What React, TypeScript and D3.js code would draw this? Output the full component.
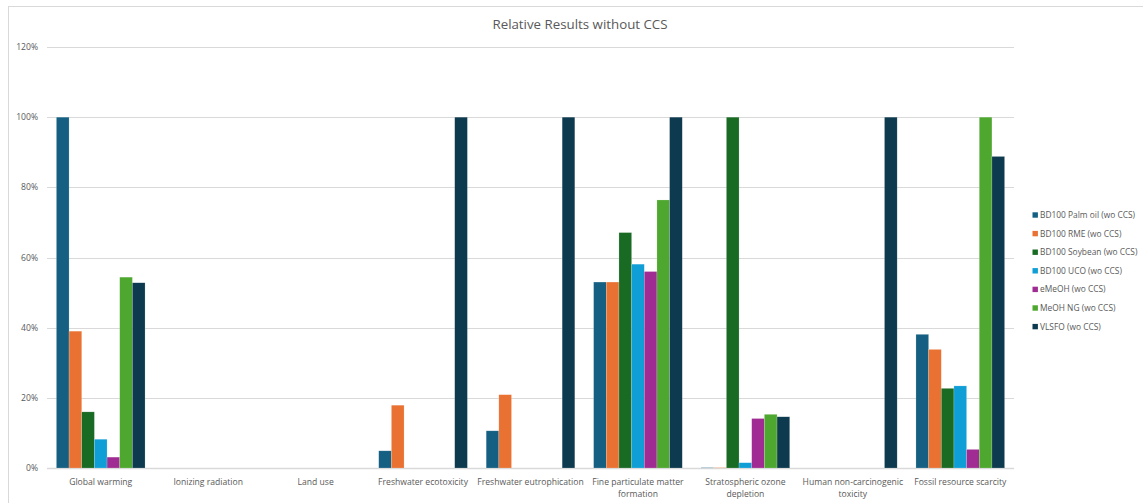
import React, { useMemo } from "react";
import * as d3 from "d3";

const WIDTH = 1143;
const HEIGHT = 503;

const title = "Relative Results without CCS";

const categories = [
  "Global warming",
  "Ionizing radiation",
  "Land use",
  "Freshwater ecotoxicity",
  "Freshwater eutrophication",
  "Fine particulate matter formation",
  "Stratospheric ozone depletion",
  "Human non-carcinogenic toxicity",
  "Fossil resource scarcity",
];

const seriesNames = [
  "BD100 Palm oil (wo CCS)",
  "BD100 RME (wo CCS)",
  "BD100 Soybean (wo CCS)",
  "BD100 UCO (wo CCS)",
  "eMeOH (wo CCS)",
  "MeOH NG (wo CCS)",
  "VLSFO (wo CCS)",
];

const seriesColors = [
  "#156082",
  "#E97132",
  "#196B24",
  "#0F9ED5",
  "#A02B93",
  "#4EA72E",
  "#0D3A4E",
];

// Relative results in percent, one array per series, ordered like `categories`
const palmOil = [100, 0, 0, 4.9, 10.6, 53.0, 0.1, 0, 38.1];
const rme = [39.0, 0, 0, 17.9, 20.9, 53.0, 0.1, 0, 33.8];
const soybean = [16.0, 0, 0, 0, 0, 67.1, 100, 0, 22.7];
const uco = [8.2, 0, 0, 0, 0, 58.1, 1.5, 0, 23.4];
const emeoh = [3.1, 0, 0, 0, 0, 56.0, 14.1, 0, 5.3];
const meohNg = [54.4, 0, 0, 0, 0, 76.4, 15.3, 0, 100];
const vlsfo = [52.8, 0, 0, 100, 100, 100, 14.6, 100, 88.8];

const seriesValues = [palmOil, rme, soybean, uco, emeoh, meohNg, vlsfo];

const yTicks = [0, 20, 40, 60, 80, 100, 120];

const FONT = "'Open Sans', 'Liberation Sans', sans-serif";
const TEXT_COLOR = "#595959";
const GRID_COLOR = "#D9D9D9";

const plot = { left: 47, right: 1014, top: 47, bottom: 468 };

function wrapLabel(text: string, maxWidth: number, font: string): string[] {
  const canvas = document.createElement("canvas");
  const ctx = canvas.getContext("2d");
  if (!ctx) return [text];
  ctx.font = font;
  const words = text.split(" ");
  const lines: string[] = [];
  let current = "";
  for (const w of words) {
    const trial = current ? current + " " + w : w;
    if (ctx.measureText(trial).width > maxWidth && current) {
      lines.push(current);
      current = w;
    } else {
      current = trial;
    }
  }
  if (current) lines.push(current);
  return lines;
}

export default function App() {
  const x0 = d3
    .scaleBand<string>()
    .domain(categories)
    .range([plot.left, plot.right])
    .paddingInner(0.175)
    .paddingOuter(0.0875);

  const x1 = d3
    .scaleBand<string>()
    .domain(seriesNames)
    .range([0, x0.bandwidth()]);

  const y = d3.scaleLinear().domain([0, 120]).range([plot.bottom, plot.top]);

  const labelFontSize = 8.6;
  const wrapped = useMemo(
    () =>
      categories.map((c) =>
        wrapLabel(c, x0.step() + 8, `${labelFontSize}px 'Open Sans'`)
      ),
    []
  );

  return (
    <svg
      width={WIDTH}
      height={HEIGHT}
      style={{ position: "absolute", left: 0, top: 0, background: "#fff" }}
      fontFamily={FONT}
    >
      {/* chart frame */}
      <rect
        x={8.5}
        y={6.5}
        width={WIDTH + 10}
        height={HEIGHT + 10}
        fill="#fff"
        stroke={GRID_COLOR}
      />

      <text
        x={580}
        y={28.5}
        textAnchor="middle"
        fontSize={13.3}
        fill={TEXT_COLOR}
      >
        {title}
      </text>

      {/* gridlines and y labels */}
      {yTicks.map((t) => (
        <g key={t}>
          <line
            x1={plot.left}
            x2={plot.right}
            y1={Math.round(y(t)) + 0.5}
            y2={Math.round(y(t)) + 0.5}
            stroke={GRID_COLOR}
            strokeWidth={t === 0 ? 1.5 : 1}
          />
          <text
            x={38}
            y={y(t)}
            dy="0.35em"
            textAnchor="end"
            fontSize={labelFontSize}
            fill={TEXT_COLOR}
          >
            {t}%
          </text>
        </g>
      ))}

      {/* bars */}
      {categories.map((c, ci) => (
        <g key={c} transform={`translate(${x0(c)},0)`}>
          {seriesNames.map((s, si) => {
            const v = seriesValues[si][ci];
            if (v <= 0) return null;
            const top = y(v);
            return (
              <rect
                key={s}
                x={x1(s)}
                y={top}
                width={x1.bandwidth()}
                height={Math.max(0.4, y(0) - top)}
                fill={seriesColors[si]}
                stroke="#ffffff"
                strokeOpacity={0.35}
                strokeWidth={0.5}
              />
            );
          })}
        </g>
      ))}

      {/* category labels */}
      {categories.map((c, ci) => {
        const cx = (x0(c) ?? 0) + x0.bandwidth() / 2;
        return (
          <text
            key={c}
            x={cx}
            y={484.5}
            textAnchor="middle"
            fontSize={labelFontSize}
            fill={TEXT_COLOR}
          >
            {wrapped[ci].map((line, li) => (
              <tspan key={li} x={cx} dy={li === 0 ? 0 : 12}>
                {line}
              </tspan>
            ))}
          </text>
        );
      })}

      {/* legend */}
      {seriesNames.map((s, si) => {
        const ly = 215 + si * 18.6;
        return (
          <g key={s}>
            <rect x={1032.5} y={ly - 2.7} width={5.4} height={5.4} fill={seriesColors[si]} />
            <text
              x={1040}
              y={ly}
              dy="0.35em"
              fontSize={8.4}
              fill={TEXT_COLOR}
            >
              {s}
            </text>
          </g>
        );
      })}
    </svg>
  );
}
